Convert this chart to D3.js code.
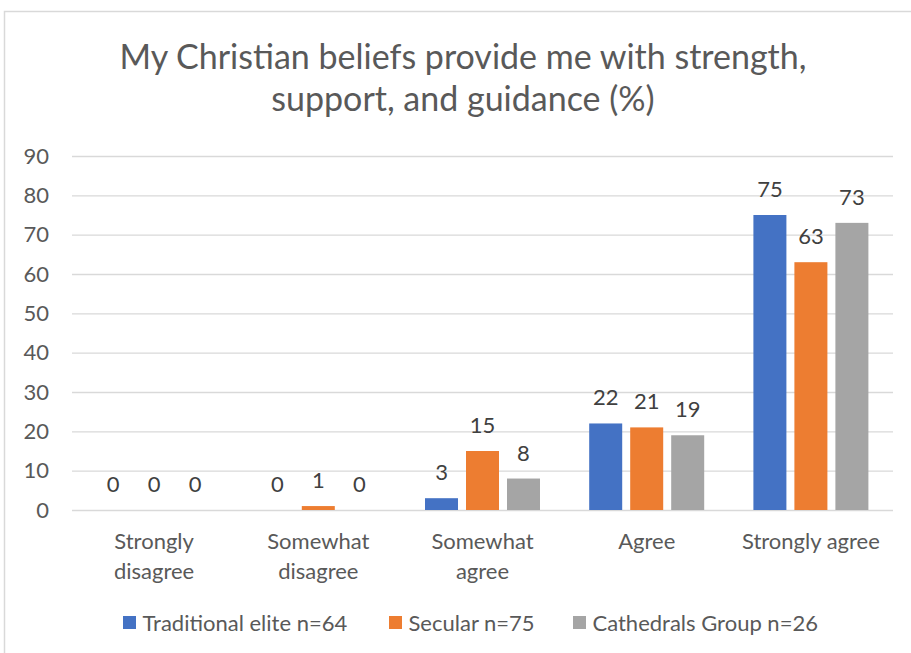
<!DOCTYPE html>
<html>
<head>
<meta charset="utf-8">
<script src="https://cdn.jsdelivr.net/npm/d3@7"></script>
<style>
  html, body { margin: 0; padding: 0; background: #fff; }
  svg { display: block; font-family: Lato, "Open Sans", sans-serif; }
</style>
</head>
<body>
<svg id="chart" width="911" height="653"></svg>
<script>
// Survey responses, percent of each group
const categories = [["Strongly", "disagree"], ["Somewhat", "disagree"], ["Somewhat", "agree"], ["Agree"], ["Strongly agree"]];
const seriesNames = ["Traditional elite n=64", "Secular n=75", "Cathedrals Group n=26"];
const traditionalElite = [0, 0, 3, 22, 75];
const secular = [0, 1, 15, 21, 63];
const cathedralsGroup = [0, 0, 8, 19, 73];
const yTicks = [0, 10, 20, 30, 40, 50, 60, 70, 80, 90];
const titleLines = ["My Christian beliefs provide me with strength,", "support, and guidance (%)"];

const seriesValues = [traditionalElite, secular, cathedralsGroup];
const colors = ["#4472c4", "#ed7d31", "#a5a5a5"];

const svg = d3.select("#chart");

// chart area frame
svg.append("rect")
  .attr("x", 4.5).attr("y", 11.5)
  .attr("width", 930).attr("height", 660)
  .attr("fill", "#fff").attr("stroke", "#d9d9d9").attr("stroke-width", 1.5);

// title
svg.append("g").selectAll("text").data(titleLines).join("text")
  .attr("x", 463).attr("y", (d, i) => 69 + i * 42)
  .attr("text-anchor", "middle")
  .attr("font-size", 34)
  .attr("fill", "#595959")
  .text(d => d);

const plot = { left: 72, right: 893, top: 156, bottom: 510 };

const x = d3.scaleBand()
  .domain(d3.range(categories.length))
  .range([plot.left, plot.right]);

const xInner = d3.scaleBand()
  .domain(d3.range(seriesNames.length))
  .range([-57.5, 57.5])
  .paddingInner(0.195);

const y = d3.scaleLinear().domain([0, 90]).range([plot.bottom, plot.top]);

// gridlines and value axis labels
const yAxis = d3.axisLeft(y)
  .tickValues(yTicks)
  .tickSize(-(plot.right - plot.left))
  .tickPadding(23);

const yg = svg.append("g")
  .attr("transform", `translate(${plot.left},0)`)
  .call(yAxis);
yg.select(".domain").remove();
yg.selectAll(".tick line").attr("stroke", "#d9d9d9").attr("stroke-width", 1.3);
yg.selectAll(".tick text")
  .attr("font-size", 22)
  .attr("fill", "#595959")
  .attr("font-family", "Lato, sans-serif");

// bars
const groups = svg.append("g").selectAll("g")
  .data(categories.map((c, i) => i))
  .join("g")
  .attr("transform", i => `translate(${x(i) + x.bandwidth() / 2},0)`);

const cells = groups.selectAll("g.cell")
  .data(ci => seriesValues.map((vals, si) => ({ si, v: vals[ci] })))
  .join("g").attr("class", "cell");

cells.append("rect")
  .attr("x", d => xInner(d.si))
  .attr("width", xInner.bandwidth())
  .attr("y", d => y(d.v))
  .attr("height", d => y(0) - y(d.v))
  .attr("fill", d => colors[d.si]);

// data labels
cells.append("text")
  .attr("x", d => xInner(d.si) + xInner.bandwidth() / 2)
  .attr("y", d => y(d.v) - 18)
  .attr("text-anchor", "middle")
  .attr("font-size", 22)
  .attr("fill", "#404040")
  .text(d => d.v);

// category labels
const catLabels = svg.append("g").selectAll("text")
  .data(categories)
  .join("text")
  .attr("x", (d, i) => x(i) + x.bandwidth() / 2)
  .attr("y", 549)
  .attr("text-anchor", "middle")
  .attr("font-size", 22)
  .attr("fill", "#595959");
catLabels.selectAll("tspan")
  .data(d => d)
  .join("tspan")
  .attr("x", function () { return this.parentNode.getAttribute("x"); })
  .attr("dy", (d, i) => i === 0 ? 0 : 30)
  .text(d => d);

// legend
const legendX = [123, 389, 573];
const legend = svg.append("g").selectAll("g")
  .data(seriesNames)
  .join("g")
  .attr("transform", (d, i) => `translate(${legendX[i]},616)`);
legend.append("rect")
  .attr("width", 13).attr("height", 13)
  .attr("fill", (d, i) => colors[i]);
legend.append("text")
  .attr("x", 19.5).attr("y", 14.5)
  .attr("font-size", 22)
  .attr("fill", "#595959")
  .text(d => d);
</script>
</body>
</html>
